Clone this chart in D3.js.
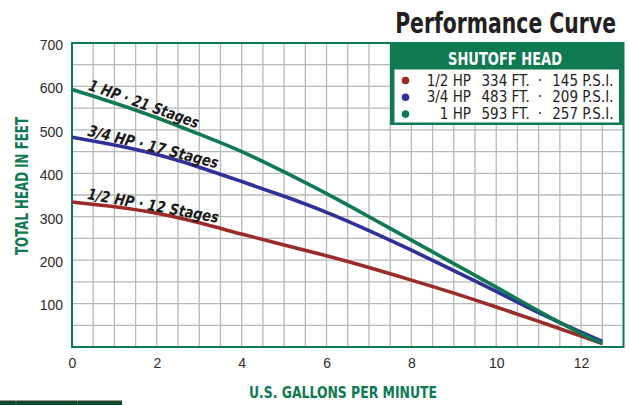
<!DOCTYPE html>
<html><head><meta charset="utf-8">
<script src="https://cdn.jsdelivr.net/npm/d3@7"></script>
<style>
html,body{margin:0;padding:0;background:#fff;}
svg{display:block;}
</style></head>
<body><svg id="c" width="629" height="405"></svg>
<script>
// ---- data ----
const flow = [0, 1, 2, 3, 4, 5, 6, 7, 8, 9, 10, 11, 12, 12.5];
const hp1  = [593, 562, 528, 490, 450, 403, 353, 300, 246, 192, 138, 83, 31, 9];
const hp34 = [483, 465, 443, 414, 381, 347, 310, 268, 223, 176, 128, 79, 34, 13];
const hp12 = [334, 323, 308, 286, 260, 235, 210, 183, 154, 124, 92, 59, 25, 8];
const seriesNames = ["1/2 HP", "3/4 HP", "1 HP"];
const curveLabels = ["1/2 HP \u00B7 12 Stages", "3/4 HP \u00B7 17 Stages", "1 HP \u00B7 21 Stages"];
const shutoffFt = [334, 483, 593];
const shutoffPsi = [145, 209, 257];
const xTicks = [0, 2, 4, 6, 8, 10, 12];
const yTicks = [100, 200, 300, 400, 500, 600, 700];

const colors = ["#9b2b27", "#30309a", "#0d7a52"];
const green = "#0f7a52";
const condensed = "'Liberation Sans Narrow','DejaVu Sans Condensed','Roboto Condensed',sans-serif";
const regular = "'Liberation Sans','Arial',sans-serif";

const svg = d3.select("#c");
const x = d3.scaleLinear().domain([0, 13]).range([72, 623.5]);
const y = d3.scaleLinear().domain([0, 700]).range([347, 43]);

// grid
const g = svg.append("g");
g.selectAll("line.v").data(d3.range(0.5, 13, 0.5)).join("line")
  .attr("x1", d => x(d)).attr("x2", d => x(d)).attr("y1", y(700)).attr("y2", y(0))
  .attr("stroke", "#b8b8b8").attr("stroke-width", 1.3);
g.selectAll("line.h").data(d3.range(50, 700, 50)).join("line")
  .attr("y1", d => y(d)).attr("y2", d => y(d)).attr("x1", x(0)).attr("x2", x(13))
  .attr("stroke", "#b8b8b8").attr("stroke-width", 1.3);

// frame
svg.append("rect").attr("x", x(0)).attr("y", y(700)).attr("width", x(13) - x(0)).attr("height", y(0) - y(700))
  .attr("fill", "none").attr("stroke", green).attr("stroke-width", 2);

// axes
const xAxis = svg.append("g").attr("transform", `translate(0,${y(0)})`)
  .call(d3.axisBottom(x).tickValues(xTicks).tickSize(0).tickPadding(11));
const yAxis = svg.append("g").attr("transform", `translate(${x(0)},0)`)
  .call(d3.axisLeft(y).tickValues(yTicks).tickSize(0).tickPadding(9));
[xAxis, yAxis].forEach(a => {
  a.select(".domain").remove();
  a.selectAll("text").attr("font-family", regular).attr("font-size", 14).attr("fill", "#2b2b2b");
});
yAxis.selectAll("text").attr("dy", "0.45em");

// curves
const seriesVals = [hp12, hp34, hp1];
const line = d3.line().x(d => x(d[0])).y(d => y(d[1])).curve(d3.curveNatural);
seriesVals.forEach((vals, i) => {
  svg.append("path").datum(flow.map((f, j) => [f, vals[j]]))
    .attr("d", line).attr("fill", "none").attr("stroke", colors[i]).attr("stroke-width", 3.6)
    .attr("stroke-linejoin", "round");
});

// curve labels
const labelStart = 0.33;
const labelEnd = [3.37, 3.37, 2.9];
const labelLen = [133, 134, 116];
function interp(vals, v) {
  const i = d3.bisectRight(flow, v) - 1;
  const t = (v - flow[i]) / (flow[i + 1] - flow[i]);
  return vals[i] + t * (vals[i + 1] - vals[i]);
}
seriesVals.forEach((vals, i) => {
  const x0 = x(labelStart), y0 = y(interp(vals, labelStart));
  const x1 = x(labelEnd[i]), y1 = y(interp(vals, labelEnd[i]));
  const ang = Math.atan2(y1 - y0, x1 - x0) * 180 / Math.PI;
  svg.append("text")
    .attr("transform", `translate(${x0},${y0}) rotate(${ang})`)
    .attr("x", 0).attr("y", -4.5)
    .attr("font-family", condensed).attr("font-size", 15.5).attr("font-weight", "bold")
    .attr("font-style", "italic").attr("fill", "#1a1a1a")
    .attr("textLength", labelLen[i]).attr("lengthAdjust", "spacingAndGlyphs")
    .text(curveLabels[i]);
});

// axis titles
svg.append("text").attr("x", 343).attr("y", 398).attr("text-anchor", "middle")
  .attr("font-family", condensed).attr("font-weight", "bold").attr("font-size", 16).attr("fill", green)
  .attr("textLength", 188).attr("lengthAdjust", "spacingAndGlyphs")
  .text("U.S. GALLONS PER MINUTE");
svg.append("text").attr("transform", "translate(28,186) rotate(-90)").attr("text-anchor", "middle")
  .attr("font-family", condensed).attr("font-weight", "bold").attr("font-size", 17).attr("fill", green)
  .attr("textLength", 138).attr("lengthAdjust", "spacingAndGlyphs")
  .text("TOTAL HEAD IN FEET");

// title (scaled horizontally to the reference width)
const title = svg.append("text").attr("x", 0).attr("y", 0).attr("text-anchor", "end")
  .attr("font-family", condensed).attr("font-weight", "bold").attr("font-size", 28.5).attr("fill", "#231f20")
  .text("Performance Curve");
const tw = title.node().getComputedTextLength();
title.attr("transform", `translate(616,33) scale(${221 / tw},1)`);

// legend box
const lg = svg.append("g");
lg.append("rect").attr("x", 390).attr("y", 43).attr("width", 233).attr("height", 82).attr("fill", green);
lg.append("rect").attr("x", 394.5).attr("y", 69.5).attr("width", 224.5).attr("height", 53).attr("fill", "#fff");
lg.append("text").attr("x", 505).attr("y", 65).attr("text-anchor", "middle")
  .attr("font-family", condensed).attr("font-weight", "bold").attr("font-size", 18).attr("fill", "#fff")
  .attr("textLength", 114).attr("lengthAdjust", "spacingAndGlyphs")
  .text("SHUTOFF HEAD");
seriesNames.forEach((name, i) => {
  const by = 85.5 + i * 16.8;
  lg.append("circle").attr("cx", 405.5).attr("cy", by - 5).attr("r", 3.8).attr("fill", colors[i]);
  const t = (s, xx, anchor) => lg.append("text").attr("x", xx).attr("y", by).attr("text-anchor", anchor)
    .attr("font-family", condensed).attr("font-size", 15).attr("fill", "#231f20").text(s);
  t(name, 471, "end");
  t(shutoffFt[i] + " FT.", 481.5, "start");
  t("\u00B7", 540, "middle");
  t(shutoffPsi[i] + " P.S.I.", 613.5, "end");
});

// bottom-left strip
const strip = svg.append("g");
strip.append("rect").attr("x", 0).attr("y", 401).attr("width", 122).attr("height", 4).attr("fill", "#0b4a2d");
strip.append("line").attr("x1", 0).attr("x2", 122).attr("y1", 401).attr("y2", 401).attr("stroke", "#3a3a3a").attr("stroke-width", 1);
[16, 77.5].forEach(xx => strip.append("line").attr("x1", xx).attr("x2", xx).attr("y1", 401).attr("y2", 405)
  .attr("stroke", "#2f6b4d").attr("stroke-width", 1));
</script>
</body></html>
